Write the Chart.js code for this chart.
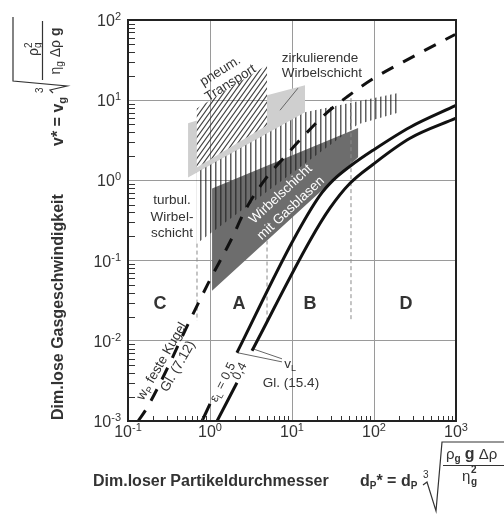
<!DOCTYPE html>
<html>
<head>
<meta charset="utf-8">
<script src="https://cdn.jsdelivr.net/npm/chart.js@4.4.0/dist/chart.umd.min.js"></script>
<style>
  html, body { margin: 0; padding: 0; background: #fff; }
</style>
</head>
<body>
<canvas id="graceChart" width="504" height="515"></canvas>
<script>
// decade exponents used as tick labels (10^n)
const xTickExps = [-1, 0, 1, 2, 3];
const yTickExps = [-3, -2, -1, 0, 1, 2];

// terminal velocity of a single sphere, w_P (Gl. 7.12)
const wpX = [0.133, 0.17, 0.325, 0.456, 0.946, 1.85, 2.67, 4.8, 8.45, 13.6, 26.7, 48, 100, 300, 975];
const wpY = [0.001, 0.00145, 0.0053, 0.0112, 0.0516, 0.19, 0.42, 1.06, 2.05, 3.5, 7.0, 11.2, 18.8, 35, 66];

// minimum fluidization velocity v_L (Gl. 15.4), null = gap for the label
const vl05X = [0.8, 1.0, 1.5, 2.13, 10.3, 21.9, 31.6, 51, 97, 275, 1000];
const vl05Y = [0.001, 0.00163, null, 0.0071, 0.178, 0.65, 1.0, 1.5, 2.37, 4.6, 8.6];
const vl04X = [1.22, 2.13, 2.6, 3.25, 16.6, 29, 51, 97, 275, 1000];
const vl04Y = [0.001, 0.003, null, 0.0075, 0.178, 0.45, 0.92, 1.58, 3.35, 5.96];

// regime areas (corner points)
const circX = [0.54, 0.69, 0.69, 4.96, 4.96, 14.4, 14.4, 0.54];
const circY = [5.16, 5.6, 1.45, 4.87, 11.5, 15.4, 7.1, 1.09];
const pneuX = [0.69, 4.96, 4.96, 0.69];
const pneuY = [7.9, 27.4, 4.87, 1.45];
const turbX = [0.69, 14.4, 191, 191, 64, 0.69];
const turbY = [1.26, 7.1, 12.2, 6.9, 5.0, 0.163];
const bubbX = [1.06, 64, 64, 1.06];
const bubbY = [0.79, 4.5, 1.94, 0.042];

// Geldart group borders C/A/B/D
const groupX = [0.694, 4.96, 52.4];
const groupTop = [0.163, 0.178, 10.6];
const groupBottom = [0.0178, 0.0178, 0.0178];

// pointer lines for labels
const leadZwsX = [11.8, 7.14];
const leadZwsY = [14.1, 7.5];
const leadV05X = [2.19, 7.55];
const leadV05Y = [0.00708, 0.00546];
const leadV04X = [3.34, 7.55];
const leadV04Y = [0.00794, 0.00596];

const FONT = '"Liberation Sans", Arial, Helvetica, sans-serif';
const INK = '#333';

const pts = (xs, ys) => xs.map((v, i) => ({x: v, y: ys[i]}));
const poly = (xs, ys) => { const p = pts(xs, ys); p.push(p[0]); return p; };

function makePattern(draw, w, h) {
  const c = document.createElement('canvas');
  c.width = w; c.height = h;
  draw(c.getContext('2d'));
  return c.getContext('2d').createPattern(c, 'repeat');
}
const stripes = makePattern(g => {
  g.fillStyle = 'rgba(35,35,35,0.72)';
  g.fillRect(0, 0, 1.5, 5);
}, 5, 5);
// slanted hatch, about 55 degrees
const hatch = makePattern(g => {
  g.strokeStyle = 'rgba(30,30,30,0.85)';
  g.lineWidth = 1.1;
  g.beginPath();
  g.moveTo(-1, 8.4); g.lineTo(6, -1.4);
  g.moveTo(-1, 1.4); g.lineTo(1, -1.4);
  g.moveTo(4, 8.4); g.lineTo(6, 5.6);
  g.stroke();
}, 5, 7);

function area(data, fillStyle, order) {
  return {data, showLine: true, fill: 'shape', backgroundColor: fillStyle,
    borderColor: 'rgba(0,0,0,0)', borderWidth: 0, pointRadius: 0, tension: 0, order};
}
function thin(data, color, dash, order) {
  return {data, showLine: true, fill: false, borderColor: color, borderWidth: 1,
    borderDash: dash, pointRadius: 0, tension: 0, order};
}

const datasets = [
  area(poly(circX, circY), '#cfcfcf', 20),
  area(poly(bubbX, bubbY), '#6d6d6d', 19),
  area(poly(turbX, turbY), stripes, 18),
  area(poly(pneuX, pneuY), hatch, 17),
  ...groupX.map((gx, i) => thin([{x: gx, y: groupTop[i]}, {x: gx, y: groupBottom[i]}], '#8a8a8a', [4, 3], 10)),
  thin(pts(leadZwsX, leadZwsY), '#666', [], 9),
  thin(pts(leadV05X, leadV05Y), '#666', [], 9),
  thin(pts(leadV04X, leadV04Y), '#666', [], 9),
  {data: pts(vl05X, vl05Y), showLine: true, borderColor: '#111', borderWidth: 3,
    pointRadius: 0, cubicInterpolationMode: 'monotone', spanGaps: false, order: 2},
  {data: pts(vl04X, vl04Y), showLine: true, borderColor: '#111', borderWidth: 3,
    pointRadius: 0, cubicInterpolationMode: 'monotone', spanGaps: false, order: 2},
  {data: pts(wpX, wpY), showLine: true, borderColor: '#111', borderWidth: 3, borderDash: [13, 11],
    pointRadius: 0, cubicInterpolationMode: 'monotone', order: 1}
];

// text with sub/superscripts: runs = [text, size, weight, dy]
function rich(ctx, runs, x, y, align) {
  let w = 0;
  runs.forEach(r => {
    ctx.font = (r[2] || 'normal') + ' ' + r[1] + 'px ' + FONT;
    r.w = ctx.measureText(r[0]).width;
    w += r.w;
  });
  let cx = align === 'center' ? x - w / 2 : align === 'right' ? x - w : x;
  ctx.textAlign = 'left';
  ctx.textBaseline = 'alphabetic';
  runs.forEach(r => {
    ctx.font = (r[2] || 'normal') + ' ' + r[1] + 'px ' + FONT;
    ctx.fillText(r[0], cx, y + (r[3] || 0));
    cx += r.w;
  });
  return w;
}

const notes = [
  {x: 1.32, y: 23.7, rot: -32, runs: [['pneum.', 13.5]]},
  {x: 1.75, y: 16.8, rot: -32, runs: [['Transport', 13.5]]},
  {x: 21.9, y: 34.5, runs: [['zirkulierende', 13.5]]},
  {x: 23.2, y: 22.4, runs: [['Wirbelschicht', 13.5]]},
  {x: 0.344, y: 0.579, runs: [['turbul.', 13.5]]},
  {x: 0.344, y: 0.355, runs: [['Wirbel-', 13.5]]},
  {x: 0.344, y: 0.224, runs: [['schicht', 13.5]]},
  {x: 7.14, y: 0.688, rot: -43, color: '#fff', runs: [['Wirbelschicht', 13.5]]},
  {x: 9.46, y: 0.46, rot: -43, color: '#fff', runs: [['mit Gasblasen', 13.5]]},
  {x: 0.246, y: 0.0299, runs: [['C', 18, 'bold']]},
  {x: 2.26, y: 0.0299, runs: [['A', 18, 'bold']]},
  {x: 16.6, y: 0.0299, runs: [['B', 18, 'bold']]},
  {x: 245, y: 0.0299, runs: [['D', 18, 'bold']]},
  {x: 0.252, y: 0.00562, rot: -60, runs: [['w', 13.5], ['P', 9, 'normal', 3], [' feste Kugel', 13.5]]},
  {x: 0.396, y: 0.00487, rot: -60, runs: [['Gl. (7.12)', 13.5]]},
  {x: 1.40, y: 0.00307, rot: -63, runs: [['ε', 12.5], ['L', 9, 'normal', 3], [' = 0,5', 12.5]]},
  {x: 2.26, y: 0.00422, rot: -63, runs: [['0,4', 12.5]]},
  {x: 9.46, y: 0.00531, runs: [['v', 13.5], ['L', 9, 'normal', 3]]},
  {x: 9.72, y: 0.00307, runs: [['Gl. (15.4)', 13.5]]}
];

const decor = {
  id: 'decor',
  afterDatasetsDraw(chart) {
    const {ctx, scales: {x, y}} = chart;
    notes.forEach(n => {
      ctx.save();
      ctx.translate(x.getPixelForValue(n.x), y.getPixelForValue(n.y));
      ctx.rotate((n.rot || 0) * Math.PI / 180);
      ctx.fillStyle = n.color || INK;
      rich(ctx, n.runs, 0, n.runs[0][1] * 0.36, 'center');
      ctx.restore();
    });
  },
  afterDraw(chart) {
    const {ctx, chartArea: a, scales: {x, y}} = chart;
    ctx.save();
    // minor ticks, inward
    ctx.strokeStyle = INK;
    ctx.lineWidth = 1;
    ctx.beginPath();
    for (let e = -3; e < 2; e++) {
      for (let m = 2; m <= 9; m++) {
        const py = Math.round(y.getPixelForValue(m * Math.pow(10, e))) + 0.5;
        ctx.moveTo(a.left, py); ctx.lineTo(a.left + 7, py);
      }
    }
    for (let e = -1; e < 3; e++) {
      for (let m = 2; m <= 9; m++) {
        const px = Math.round(x.getPixelForValue(m * Math.pow(10, e))) + 0.5;
        ctx.moveTo(px, a.bottom); ctx.lineTo(px, a.bottom - 5);
      }
    }
    ctx.stroke();
    // frame
    ctx.strokeStyle = '#222';
    ctx.lineWidth = 2;
    ctx.strokeRect(a.left, a.top, a.right - a.left, a.bottom - a.top);

    // tick labels 10^n
    ctx.fillStyle = INK;
    xTickExps.forEach(e => {
      const px = x.getPixelForValue(Math.pow(10, e));
      ctx.font = '16px ' + FONT;
      const w1 = ctx.measureText('10').width;
      ctx.font = '11px ' + FONT;
      const w2 = ctx.measureText(String(e)).width;
      const x0 = px - (w1 + w2) / 2;
      ctx.textAlign = 'left'; ctx.textBaseline = 'alphabetic';
      ctx.font = '16px ' + FONT; ctx.fillText('10', x0, 437);
      ctx.font = '11px ' + FONT; ctx.fillText(String(e), x0 + w1, 431);
    });
    yTickExps.forEach(e => {
      const py = y.getPixelForValue(Math.pow(10, e));
      ctx.font = '11px ' + FONT;
      const w2 = ctx.measureText(String(e)).width;
      ctx.font = '16px ' + FONT;
      const w1 = ctx.measureText('10').width;
      const x0 = 121 - w1 - w2;
      ctx.fillText('10', x0, py + 6);
      ctx.font = '11px ' + FONT; ctx.fillText(String(e), x0 + w1, py);
    });

    // x axis title
    rich(ctx, [['Dim.loser Partikeldurchmesser', 16, 'bold']], 93, 486, 'left');
    rich(ctx, [['d', 16, 'bold'], ['P', 10, 'bold', 3], ['* = d', 16, 'bold'], ['P', 10, 'bold', 3]], 360, 486, 'left');
    rich(ctx, [['3', 10]], 423, 478, 'left');
    ctx.strokeStyle = INK; ctx.lineWidth = 1.2;
    ctx.beginPath();
    ctx.moveTo(423, 485); ctx.lineTo(427, 482); ctx.lineTo(436, 511); ctx.lineTo(442, 442); ctx.lineTo(504, 442);
    ctx.moveTo(443, 465.5); ctx.lineTo(504, 465.5);
    ctx.stroke();
    rich(ctx, [['ρ', 15], ['g', 10, 'bold', 3], [' ', 15], ['g', 16, 'bold'], [' Δρ', 15]], 446, 459, 'left');
    rich(ctx, [['η', 15]], 462, 481, 'left');
    rich(ctx, [['2', 10, 'bold']], 471, 473, 'left');
    rich(ctx, [['g', 10, 'bold']], 471, 485, 'left');

    // y axis title, rotated: local u = -pageY, v = pageX - 63
    ctx.translate(63, 0);
    ctx.rotate(-Math.PI / 2);
    rich(ctx, [['Dim.lose Gasgeschwindigkeit', 16, 'bold']], -420, 0, 'left');
    rich(ctx, [['v* = v', 16, 'bold'], ['g', 11, 'bold', 3]], -97, 0, 'right');
    rich(ctx, [['3', 10]], -93, -20, 'left');
    ctx.beginPath();
    ctx.moveTo(-93, -10); ctx.lineTo(-90, -13); ctx.lineTo(-86, 4); ctx.lineTo(-81, -50); ctx.lineTo(-17, -50);
    ctx.moveTo(-80, -20.5); ctx.lineTo(-21, -20.5);
    ctx.stroke();
    rich(ctx, [['ρ', 14]], -56, -25, 'left');
    rich(ctx, [['2', 10]], -48, -31, 'left');
    rich(ctx, [['g', 10]], -48, -22, 'left');
    rich(ctx, [['η', 14], ['g', 10, 'normal', 3], [' Δρ ', 14], ['g', 14, 'bold']], -51, -3, 'center');
    ctx.restore();
  }
};

new Chart('graceChart', {
  type: 'scatter',
  data: {datasets},
  options: {
    responsive: false,
    animation: false,
    events: [],
    layout: {padding: {left: 0, right: 48, top: 20, bottom: 0}},
    plugins: {legend: {display: false}, tooltip: {enabled: false}},
    scales: {
      x: {
        type: 'logarithmic', min: 0.1, max: 1000,
        afterBuildTicks: s => { s.ticks = xTickExps.map(e => ({value: Math.pow(10, e)})); },
        afterFit: s => { s.height = 94; },
        ticks: {display: false},
        grid: {color: '#9a9a9a', lineWidth: 1, drawTicks: false},
        border: {display: false}
      },
      y: {
        type: 'logarithmic', min: 0.001, max: 100,
        afterBuildTicks: s => { s.ticks = yTickExps.map(e => ({value: Math.pow(10, e)})); },
        afterFit: s => { s.width = 128; },
        ticks: {display: false},
        grid: {color: '#9a9a9a', lineWidth: 1, drawTicks: false},
        border: {display: false}
      }
    }
  },
  plugins: [decor]
});
</script>
</body>
</html>
